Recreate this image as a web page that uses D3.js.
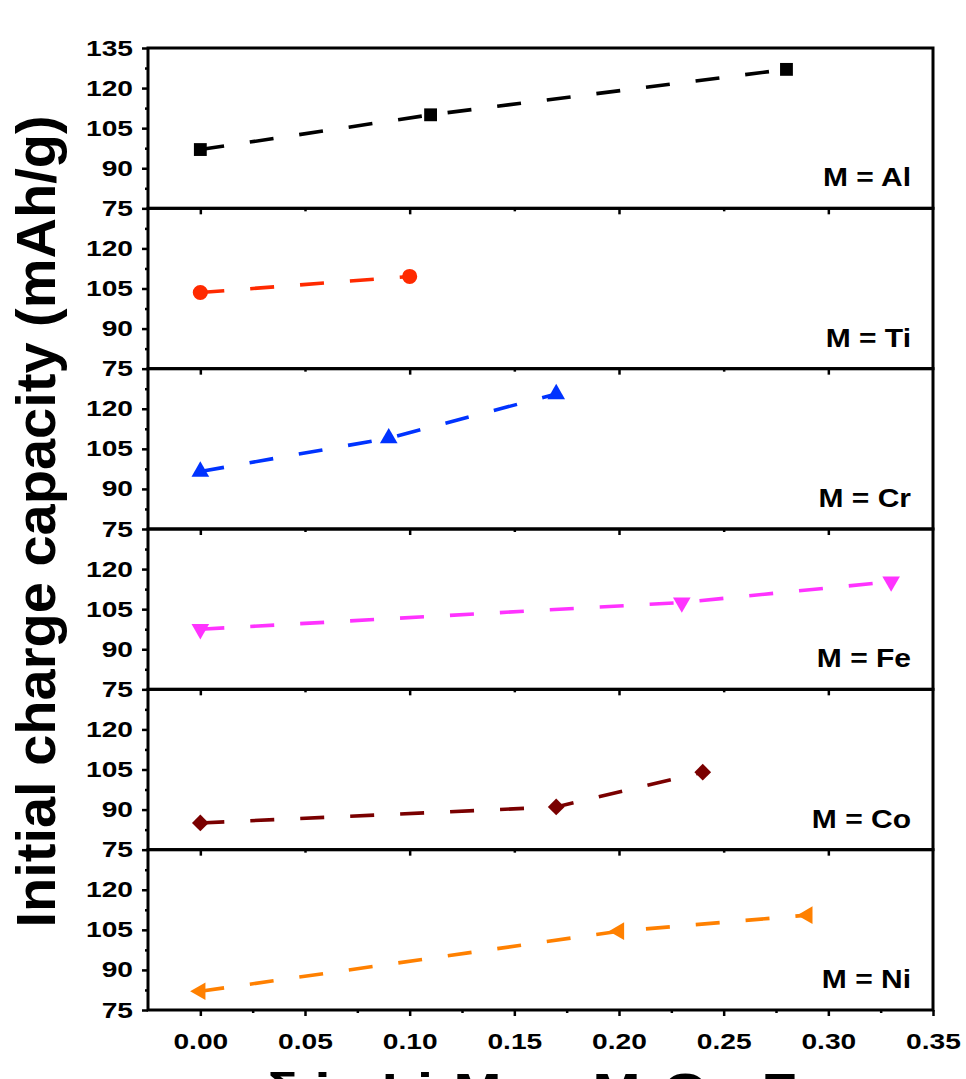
<!DOCTYPE html>
<html>
<head>
<meta charset="utf-8">
<script src="https://cdn.jsdelivr.net/npm/d3@7"></script>
<style>
  body { margin: 0; background: #fff; }
  text { font-family: "Liberation Sans", Arial, sans-serif; font-weight: bold; }
</style>
</head>
<body>
<script>
// panels, top to bottom
const metals = ["Al", "Ti", "Cr", "Fe", "Co", "Ni"];
const colors = ["#000000", "#ff2a00", "#0033ff", "#ff33ff", "#7a0000", "#ff8000"];

// delta values and initial charge capacity (mAh/g) for each M
const xAl = [0, 0.11, 0.28],  yAl = [97, 110, 127];
const xTi = [0, 0.10],        yTi = [103.5, 109.5];
const xCr = [0, 0.09, 0.17],  yCr = [96.5, 109, 125.5];
const xFe = [0, 0.23, 0.33],  yFe = [97.5, 107.5, 115.3];
const xCo = [0, 0.17, 0.24],  yCo = [85, 91, 104];
const xNi = [0, 0.20, 0.29],  yNi = [82, 104.5, 110.5];

const xTicks = [0, 0.05, 0.10, 0.15, 0.20, 0.25, 0.30, 0.35];
const yTicks = [75, 90, 105, 120];
const yTicksTop = [75, 90, 105, 120, 135];

const series = [[xAl, yAl], [xTi, yTi], [xCr, yCr], [xFe, yFe], [xCo, yCo], [xNi, yNi]];

const plotLeft = 148, plotRight = 933, plotTop = 48, plotBottom = 1010;
const panelH = (plotBottom - plotTop) / metals.length;

const svg = d3.select("body").append("svg")
	.attr("width", 966)
	.attr("height", 1079);

const x = d3.scaleLinear().domain([-0.025, 0.35]).range([plotLeft, plotRight]);

// marker shapes: square, circle, up, down, diamond, left triangle
const markers = [
	{ type: d3.symbolSquare, size: 165, rot: 0 },
	{ type: d3.symbolCircle, size: 180, rot: 0 },
	{ type: d3.symbolTriangle, size: 135, rot: 0 },
	{ type: d3.symbolTriangle, size: 135, rot: 180 },
	{ type: d3.symbolSquare, size: 140, rot: 45 },
	{ type: d3.symbolTriangle, size: 135, rot: -90 }
];

series.forEach(([xs, ys], i) => {
	const y0 = plotTop + i * panelH;
	const y = d3.scaleLinear().domain([75, 135]).range([y0 + panelH, y0]);
	const g = svg.append("g");

	// y axis, major and minor ticks
	const yMajor = g.append("g")
		.attr("transform", `translate(${plotLeft},0)`)
		.call(d3.axisLeft(y).tickValues(i === 0 ? yTicksTop : yTicks).tickSize(6).tickSizeOuter(0));
	yMajor.selectAll("text")
		.attr("x", -15 / 1.28)
		.attr("transform", "scale(1.28,1)")
		.style("font-size", "22px")
		.attr("fill", "#000");
	g.append("g")
		.attr("transform", `translate(${plotLeft},0)`)
		.call(d3.axisLeft(y).tickValues([82.5, 97.5, 112.5, 127.5]).tickSize(3).tickFormat(""));

	// x ticks at the bottom of each panel
	const yb = y0 + panelH;
	if (i === metals.length - 1) {
		const xa = g.append("g")
			.attr("transform", `translate(0,${yb})`)
			.call(d3.axisBottom(x).tickValues(xTicks).tickSize(6).tickPadding(17).tickFormat(d3.format(".2f")));
		xa.selectAll("text")
			.attr("transform", "scale(1.28,1)")
			.style("font-size", "22px")
			.attr("fill", "#000");
		g.append("g")
			.attr("transform", `translate(0,${yb})`)
			.call(d3.axisBottom(x).tickValues([0.025, 0.075, 0.125, 0.175, 0.225, 0.275, 0.325]).tickSize(3).tickFormat(""));
	} else {
		g.append("g")
			.attr("transform", `translate(0,${yb})`)
			.call(d3.axisBottom(x).tickValues([0, 0.1, 0.2, 0.3]).tickSize(6).tickFormat(""));
		g.append("g")
			.attr("transform", `translate(0,${yb})`)
			.call(d3.axisBottom(x).tickValues([0.05, 0.15, 0.25]).tickSize(3).tickFormat(""));
	}
	g.selectAll(".domain").remove();
	g.selectAll(".tick line").attr("stroke", "#000").attr("stroke-width", 2.5);

	// frame
	g.append("rect")
		.attr("x", plotLeft).attr("y", y0)
		.attr("width", plotRight - plotLeft).attr("height", panelH)
		.attr("fill", "none")
		.attr("stroke", "#000")
		.attr("stroke-width", 3);

	const pts = xs.map((v, k) => [v, ys[k]]);

	// dashed line
	g.append("path")
		.datum(pts)
		.attr("fill", "none")
		.attr("stroke", colors[i])
		.attr("stroke-width", 3.6)
		.attr("stroke-dasharray", "24,26")
		.attr("d", d3.line().x(d => x(d[0])).y(d => y(d[1])));

	// markers
	const m = markers[i];
	g.selectAll(".pt")
		.data(pts)
		.enter().append("path")
		.attr("class", "pt")
		.attr("fill", colors[i])
		.attr("transform", d => `translate(${x(d[0])},${y(d[1])}) rotate(${m.rot})`)
		.attr("d", d3.symbol().type(m.type).size(m.size));

	// panel label
	g.append("text")
		.attr("transform", `translate(${plotRight - 22},${yb - 22}) scale(1.2,1)`)
		.attr("text-anchor", "end")
		.style("font-size", "25px")
		.text(`M = ${metals[i]}`);
});

// y title
svg.append("text")
	.attr("transform", `translate(55,${(110 + 933) / 2}) rotate(-90)`)
	.attr("text-anchor", "middle")
	.style("font-size", "56px")
	.text("Initial charge capacity (mAh/g)");

// x title (cut off at the bottom edge)
const xt = svg.append("text")
	.attr("transform", `translate(${(plotLeft + plotRight) / 2},1107) scale(1.2,1)`)
	.attr("text-anchor", "middle")
	.style("font-size", "48px");
xt.append("tspan").text("δ in Li");
xt.append("tspan").attr("baseline-shift", "sub").style("font-size", "31px").text("x");
xt.append("tspan").text("Mn");
xt.append("tspan").attr("baseline-shift", "sub").style("font-size", "31px").text("2-δ");
xt.append("tspan").text("M");
xt.append("tspan").attr("baseline-shift", "sub").style("font-size", "31px").text("δ");
xt.append("tspan").text("O");
xt.append("tspan").attr("baseline-shift", "sub").style("font-size", "31px").text("4-x");
xt.append("tspan").text("F");
xt.append("tspan").attr("baseline-shift", "sub").style("font-size", "31px").text("x");
</script>
</body>
</html>
